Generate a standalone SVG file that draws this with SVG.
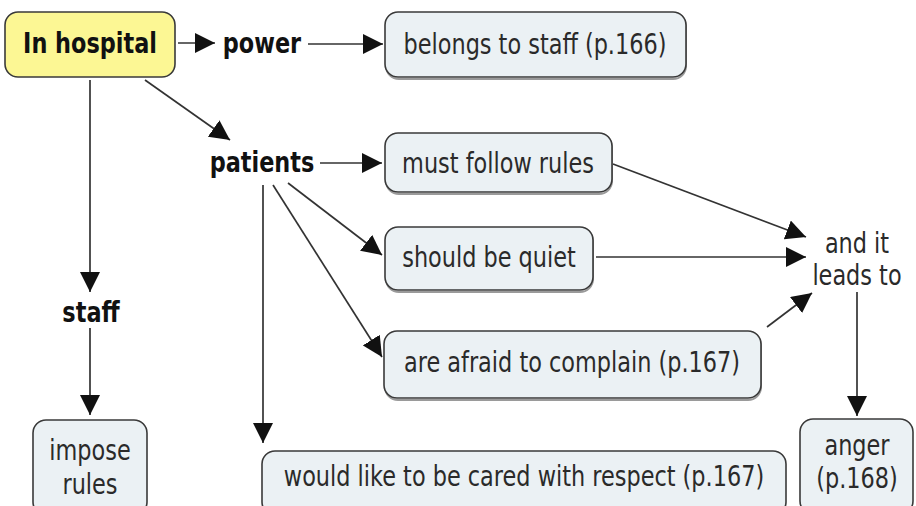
<svg xmlns="http://www.w3.org/2000/svg" width="916" height="506" viewBox="0 0 916 506">
<style>
.box{fill:#ebf1f4;stroke:#3a3a3a;stroke-width:1.6}
.shadow{fill:none;stroke:#9a9a9a;stroke-width:2}
.main{fill:#fcf794;stroke:#3a3a3a;stroke-width:1.6}
text{font-family:"DejaVu Sans",Verdana,sans-serif;font-size:28px;fill:#2a2a2a;text-anchor:middle;dominant-baseline:central}
.b{font-weight:bold;fill:#111}
.c line{stroke:#333;stroke-width:1.7;marker-end:url(#ah)}
</style>
<defs>
<marker id="ah" markerUnits="userSpaceOnUse" markerWidth="20" markerHeight="20" refX="20" refY="10" orient="auto">
<path d="M0,0 L20,10 L0,20 Z" fill="#111"/>
</marker>
</defs>
<rect width="916" height="506" fill="#fff"/>
<g class="c" id="connectors">
<line x1="178" y1="43" x2="215" y2="43"/>
<line x1="308" y1="44" x2="383" y2="44"/>
<line x1="145" y1="80" x2="230" y2="140"/>
<line x1="90" y1="80" x2="90" y2="292"/>
<line x1="90" y1="328" x2="90" y2="415"/>
<line x1="320" y1="163" x2="382" y2="163"/>
<line x1="288" y1="183" x2="382" y2="255"/>
<line x1="273" y1="185" x2="382" y2="357"/>
<line x1="263" y1="185" x2="263" y2="443"/>
<line x1="613" y1="164" x2="806" y2="237"/>
<line x1="596" y1="257" x2="806" y2="257"/>
<line x1="767" y1="327" x2="812" y2="293"/>
<line x1="857" y1="292" x2="857" y2="416"/>
</g>
<g id="in-hospital">
<rect class="main" x="5" y="12" width="170" height="65" rx="13"/>
<text class="b" transform="translate(90,43) scale(0.8,1)">In hospital</text>
</g>
<g id="power"><text class="b" transform="translate(262,43) scale(0.8,1)">power</text></g>
<g id="belongs">
<rect class="shadow" x="386" y="14" width="300" height="65" rx="13"/>
<rect class="box" x="385" y="12" width="301" height="65" rx="13"/>
<text transform="translate(535,44) scale(0.8,1)">belongs to staff (p.166)</text>
</g>
<g id="patients"><text class="b" transform="translate(262,162) scale(0.8,1)">patients</text></g>
<g id="must">
<rect class="shadow" x="386" y="135" width="226" height="59" rx="13"/>
<rect class="box" x="385" y="133" width="227" height="59" rx="13"/>
<text transform="translate(498,163) scale(0.8,1)">must follow rules</text>
</g>
<g id="quiet">
<rect class="shadow" x="386" y="229" width="207" height="63" rx="13"/>
<rect class="box" x="385" y="227" width="208" height="63" rx="13"/>
<text transform="translate(489,257) scale(0.8,1)">should be quiet</text>
</g>
<g id="afraid">
<rect class="shadow" x="385" y="333" width="376" height="67" rx="13"/>
<rect class="box" x="384" y="331" width="377" height="67" rx="13"/>
<text transform="translate(572,362) scale(0.8,1)">are afraid to complain (p.167)</text>
</g>
<g id="respect">
<rect class="box" x="262" y="451" width="524" height="64" rx="13"/>
<text transform="translate(524,476) scale(0.8,1)">would like to be cared with respect (p.167)</text>
</g>
<g id="staff"><text class="b" transform="translate(91,312) scale(0.8,1)">staff</text></g>
<g id="impose">
<rect class="box" x="33" y="420" width="114" height="95" rx="13"/>
<text transform="translate(90,450) scale(0.8,1)">impose</text>
<text transform="translate(90,484) scale(0.8,1)">rules</text>
</g>
<g id="leads"><text transform="translate(857,243) scale(0.8,1)">and it</text><text transform="translate(857,275) scale(0.8,1)">leads to</text></g>
<g id="anger">
<rect class="box" x="800" y="419" width="113" height="95" rx="13"/>
<text transform="translate(857,445) scale(0.8,1)">anger</text>
<text transform="translate(857,478) scale(0.8,1)">(p.168)</text>
</g>
</svg>
